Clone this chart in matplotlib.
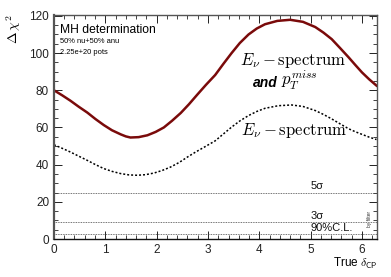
import numpy as np
import matplotlib
matplotlib.use("Agg")
import matplotlib.pyplot as plt
from matplotlib.ticker import MultipleLocator

plt.rcParams['font.family'] = ['Liberation Sans', 'DejaVu Sans']
plt.rcParams['mathtext.fontset'] = 'cm'

# delta_CP values
dcp_full = [0.0, 0.16, 0.32, 0.48, 0.65, 0.81, 0.97, 1.13, 1.30, 1.40, 1.49, 1.65,
            1.82, 1.98, 2.14, 2.30, 2.47, 2.63, 2.79, 2.96, 3.14, 3.30, 3.46, 3.62,
            3.79, 3.95, 4.11, 4.35, 4.60, 4.85, 5.09, 5.25, 5.41, 5.57, 5.74, 5.87,
            6.00, 6.14, 6.283]
chi2_full = [80.0, 77.3, 74.4, 71.2, 68.0, 64.5, 61.3, 58.5, 56.3, 55.2, 54.6, 54.8,
             55.8, 57.6, 60.0, 63.6, 67.8, 72.5, 77.6, 82.9, 88.2, 94.2, 100.0, 105.4,
             110.0, 113.2, 115.5, 117.3, 117.9, 116.8, 114.0, 111.0, 107.5, 102.8, 97.7, 93.6,
             89.6, 85.9, 82.5]

dcp_enu = [0.0, 0.16, 0.32, 0.48, 0.65, 0.81, 0.97, 1.13, 1.30, 1.46, 1.62, 1.78,
           1.95, 2.11, 2.27, 2.44, 2.60, 2.76, 2.92, 3.14, 3.30, 3.46, 3.62, 3.79,
           3.95, 4.11, 4.37, 4.63, 4.85, 5.09, 5.25, 5.41, 5.57, 5.74, 5.87, 6.00,
           6.14, 6.283]
chi2_enu = [50.7, 48.8, 46.8, 44.6, 42.3, 40.0, 37.9, 36.4, 35.2, 34.5, 34.3, 34.6,
            35.5, 36.9, 38.7, 41.2, 44.1, 46.8, 49.3, 52.8, 56.5, 60.2, 63.5, 66.4,
            68.6, 70.3, 71.7, 72.1, 71.3, 69.1, 67.0, 64.6, 62.0, 59.3, 57.7, 56.3,
            54.8, 53.5]

cl_levels = [25, 9, 2.71]
cl_labels = ['5σ', '3σ', '90%C.L.']

fig = plt.figure(figsize=(3.91, 2.77), dpi=100)
ax = fig.add_axes([0.138, 0.137, 0.825, 0.809])

ax.plot(dcp_full, chi2_full, color='#7a0a0a', lw=1.8)
ax.plot(dcp_enu, chi2_enu, color='black', lw=1.1, ls=(0, (1.3, 1.3)))

for lev, lab in zip(cl_levels, cl_labels):
    ax.axhline(lev, color='#444444', lw=0.6, ls=(0, (1, 1)))
    ax.text(5.0, lev + 0.8, lab, fontsize=8, ha='left', va='bottom', color='#111111')

ax.set_xlim(0, 2 * np.pi)
ax.set_ylim(0, 120.5)
ax.xaxis.set_major_locator(MultipleLocator(1))
ax.xaxis.set_minor_locator(MultipleLocator(0.2))
ax.yaxis.set_major_locator(MultipleLocator(20))
ax.yaxis.set_minor_locator(MultipleLocator(5))
ax.tick_params(which='both', direction='in', top=True, right=True,
               labelsize=8.5, colors='#222222')
ax.tick_params(which='major', length=6, width=0.7)
ax.tick_params(which='minor', length=3, width=0.6)
for s in ax.spines.values():
    s.set_color('#555555')
    s.set_linewidth(1.0)
ax.spines['left'].set_linewidth(1.6)
ax.spines['bottom'].set_color('#111111')

ax.text(0.12, 112.5, 'MH determination', fontsize=8.7, ha='left', va='center')
ax.text(0.12, 106.3, '50% nu+50% anu', fontsize=5.4, ha='left', va='center')
ax.text(0.12, 100.2, '2.25e+20 pots', fontsize=5.4, ha='left', va='center')

ax.text(4.66, 96, r'$E_{\nu}-\mathrm{spectrum}$', fontsize=12, ha='center', va='center')
ax.text(4.36, 84, 'and', fontsize=10, style='italic', weight='bold', ha='right', va='center')
ax.text(4.42, 85.5, r'$p_{T}^{miss}$', fontsize=12, ha='left', va='center')
ax.text(4.67, 58.5, r'$E_{\nu}-\mathrm{spectrum}$', fontsize=12, ha='center', va='center')

ax.text(6.14, 11, 'by filter', fontsize=3.5, rotation=90, ha='center', va='center',
        color='#333333')

fig.text(0.036, 0.948, r'$\Delta\,\chi^{2}$', fontsize=10, rotation=90,
         ha='center', va='top')
fig.text(0.967, 0.05, r'True $\mathsf{\delta_{CP}}$', fontsize=8.5, ha='right', va='center')

fig.savefig('out.png', dpi=100)
